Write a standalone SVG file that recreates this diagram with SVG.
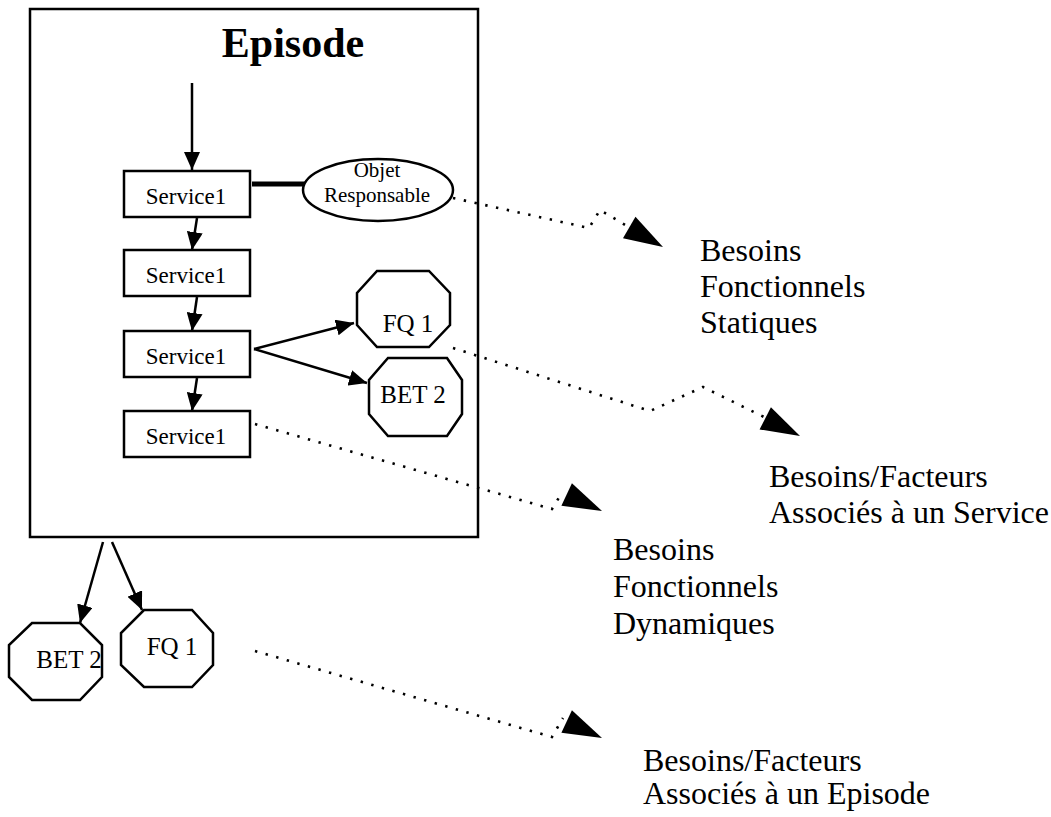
<svg xmlns="http://www.w3.org/2000/svg" xmlns:xlink="http://www.w3.org/1999/xlink" width="1051" height="817" viewBox="0 0 1051 817">
  <style>
    .frame { fill: none; stroke: #000; stroke-width: 2.5; }
    .box { fill: #fff; stroke: #000; stroke-width: 2.5; }
    .t { font-family: "Liberation Serif", "Times New Roman", serif; fill: #000; }
    .title { font-size: 42px; font-weight: bold; }
    .svc { font-size: 23px; }
    .obj { font-size: 21px; }
    .oct { font-size: 25px; }
    .lbl { font-size: 32px; }
    .arrow { fill: none; stroke: #000; stroke-width: 2.5; marker-end: url(#head); }
    .dots { fill: none; stroke: #000; stroke-width: 2.6; stroke-dasharray: 2.4 8.6; }
  </style>
  <defs>
    <marker id="head" viewBox="0 0 18 16" refX="18" refY="8" markerWidth="18" markerHeight="16" markerUnits="userSpaceOnUse" orient="auto">
      <path d="M0,0 L18,8 L0,16 Z" fill="#000"/>
    </marker>
    <!-- large filled head for the dotted links, tip at origin pointing +x -->
    <path id="bighead" d="M0,0 L-39,-12.5 L-39,12.5 Z" fill="#000"/>
  </defs>

  <rect width="1051" height="817" fill="#fff"/>

  <!-- Episode frame -->
  <g id="episode">
    <rect class="frame" x="30" y="9" width="448" height="528"/>
    <text class="t title" x="293" y="57" text-anchor="middle">Episode</text>
  </g>

  <!-- connectors -->
  <g id="connectors">
    <line class="arrow" x1="192" y1="83" x2="192" y2="170"/>
    <line class="arrow" x1="197" y1="218" x2="192" y2="250"/>
    <line class="arrow" x1="197" y1="297" x2="192" y2="331"/>
    <line class="arrow" x1="197" y1="378" x2="192" y2="411"/>
    <line class="arrow" x1="254" y1="349" x2="354" y2="323"/>
    <line class="arrow" x1="254" y1="349" x2="367" y2="383"/>
    <line class="arrow" x1="103" y1="542" x2="80" y2="623"/>
    <line class="arrow" x1="112" y1="542" x2="142" y2="610"/>
    <!-- thick link to the responsible object -->
    <line x1="252" y1="184" x2="306" y2="184" stroke="#000" stroke-width="5"/>

    <!-- dotted links to the requirement labels -->
    <path class="dots" d="M453,198 L589,228 L600,210 L632,229"/>
    <use xlink:href="#bighead" transform="translate(663,247) rotate(30)"/>
    <path class="dots" d="M453,348 L650,411 L703,387 L768,419"/>
    <use xlink:href="#bighead" transform="translate(800,436) rotate(27)"/>
    <path class="dots" d="M255,424 L552,509 L563,491"/>
    <use xlink:href="#bighead" transform="translate(602,511) rotate(25)"/>
    <path class="dots" d="M255,651 L552,737 L563,718"/>
    <use xlink:href="#bighead" transform="translate(602,738) rotate(25)"/>
  </g>

  <!-- services -->
  <g id="service-1">
    <rect class="box" x="124" y="171" width="126" height="46"/>
    <text class="t svc" x="186" y="204" text-anchor="middle">Service1</text>
  </g>
  <g id="service-2">
    <rect class="box" x="124" y="250" width="126" height="46"/>
    <text class="t svc" x="186" y="283" text-anchor="middle">Service1</text>
  </g>
  <g id="service-3">
    <rect class="box" x="124" y="331" width="126" height="46"/>
    <text class="t svc" x="186" y="364" text-anchor="middle">Service1</text>
  </g>
  <g id="service-4">
    <rect class="box" x="124" y="411" width="126" height="46"/>
    <text class="t svc" x="186" y="444" text-anchor="middle">Service1</text>
  </g>

  <!-- responsible object -->
  <g id="objet-responsable">
    <ellipse class="box" cx="378" cy="190" rx="75" ry="31"/>
    <text class="t obj" x="377" y="177" text-anchor="middle">Objet</text>
    <text class="t obj" x="377" y="202" text-anchor="middle">Responsable</text>
  </g>

  <!-- quality factors / technical needs attached to a service -->
  <g id="fq1-service">
    <polygon class="box" points="377,271 429,271 450,293 450,325 429,347 377,347 357,325 357,293"/>
    <text class="t oct" x="408" y="332" text-anchor="middle">FQ 1</text>
  </g>
  <g id="bet2-service">
    <polygon class="box" points="388,358 447,358 462,380 462,414 447,436 388,436 369,414 369,380"/>
    <text class="t oct" x="413" y="403" text-anchor="middle">BET 2</text>
  </g>

  <!-- attached to the episode -->
  <g id="bet2-episode">
    <polygon class="box" points="32,623 80,623 102,645 102,677 80,700 32,700 9,677 9,645"/>
    <text class="t oct" x="69" y="668" text-anchor="middle">BET 2</text>
  </g>
  <g id="fq1-episode">
    <polygon class="box" points="144,610 192,610 213,633 213,665 192,687 144,687 121,665 121,633"/>
    <text class="t oct" x="172" y="655" text-anchor="middle">FQ 1</text>
  </g>

  <!-- requirement labels -->
  <g id="label-statiques">
    <text class="t lbl" x="700" y="261">Besoins</text>
    <text class="t lbl" x="700" y="297">Fonctionnels</text>
    <text class="t lbl" x="700" y="333">Statiques</text>
  </g>
  <g id="label-service">
    <text class="t lbl" x="769" y="487">Besoins/Facteurs</text>
    <text class="t lbl" x="769" y="523">Associés à un Service</text>
  </g>
  <g id="label-dynamiques">
    <text class="t lbl" x="613" y="560">Besoins</text>
    <text class="t lbl" x="613" y="597">Fonctionnels</text>
    <text class="t lbl" x="613" y="634">Dynamiques</text>
  </g>
  <g id="label-episode">
    <text class="t lbl" x="643" y="771">Besoins/Facteurs</text>
    <text class="t lbl" x="643" y="804">Associés à un Episode</text>
  </g>
</svg>
